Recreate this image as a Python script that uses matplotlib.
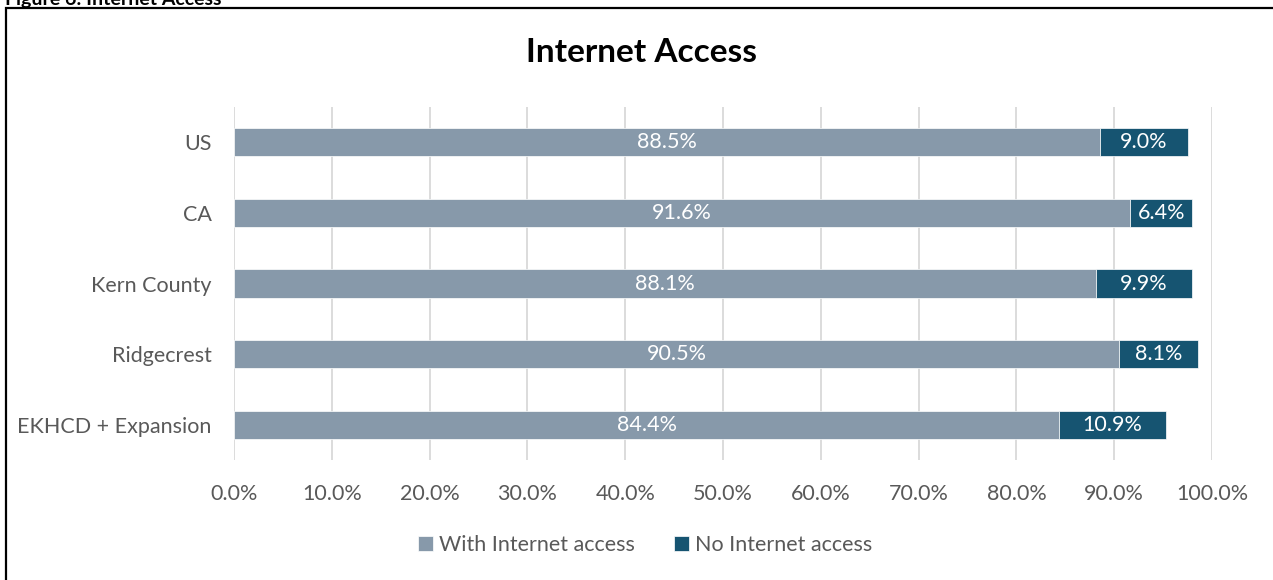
import matplotlib.pyplot as plt
import matplotlib.patches as patches
import numpy as np

categories = ['US', 'CA', 'Kern County', 'Ridgecrest', 'EKHCD + Expansion']
with_access = [88.5, 91.6, 88.1, 90.5, 84.4]
no_access = [9.0, 6.4, 9.9, 8.1, 10.9]

c_with = '#8799AA'
c_no = '#165471'
txt = '#595959'
fs = 15.5

plt.rcParams['font.family'] = ['Lato', 'DejaVu Sans']

fig = plt.figure(figsize=(12.73, 5.8), dpi=100)
ax = fig.add_axes([234/1273, 1-460/580, 978/1273, 353/580])

y = np.arange(len(categories))
b1 = ax.barh(y, with_access, height=0.4, color=c_with, edgecolor='white', linewidth=0.5, label='With Internet access')
b2 = ax.barh(y, no_access, left=with_access, height=0.4, color=c_no, edgecolor='white', linewidth=0.5, label='No Internet access')

for i in range(len(categories)):
    ax.text(with_access[i]/2, y[i], f'{with_access[i]:.1f}%', ha='center', va='center',
            color='white', fontsize=fs)
    ax.text(with_access[i] + no_access[i]/2, y[i], f'{no_access[i]:.1f}%', ha='center', va='center',
            color='white', fontsize=fs)

ax.set_xlim(0, 100)
ax.set_ylim(len(categories)-0.5, -0.5)
ax.set_xticks(np.arange(0, 101, 10))
ax.set_xticklabels([f'{v:.1f}%' for v in np.arange(0, 101, 10)])
ax.set_yticks(y)
ax.set_yticklabels(categories)
ax.tick_params(length=0, labelsize=fs, colors=txt)
ax.tick_params(axis='x', pad=17)
ax.tick_params(axis='y', pad=16)
ax.grid(axis='x', color='#D9D9D9', linewidth=1.3)
ax.set_axisbelow(True)
for s in ax.spines.values():
    s.set_visible(False)

fig.text(641/1273, 1-53/580, 'Internet Access', ha='center', va='center',
         fontsize=24, fontweight='bold', color='black')

fig.legend(handles=[b1, b2], loc='center', bbox_to_anchor=(645/1273, 1-545/580), ncol=2,
           frameon=False, fontsize=fs, labelcolor=txt, handlelength=0.7, handleheight=0.7,
           handletextpad=0.3, columnspacing=1.8)

fig.text(5/1273, 1.0, 'Figure 6: Internet Access', ha='left', va='center', fontsize=14,
         fontweight='bold', color='black')
fig.patches.append(patches.Rectangle((6/1273, -0.1), 1.2, 1-8/580+0.1, transform=fig.transFigure,
                                     fill=False, edgecolor='black', linewidth=1.6))

plt.savefig('out.png', dpi=100)
